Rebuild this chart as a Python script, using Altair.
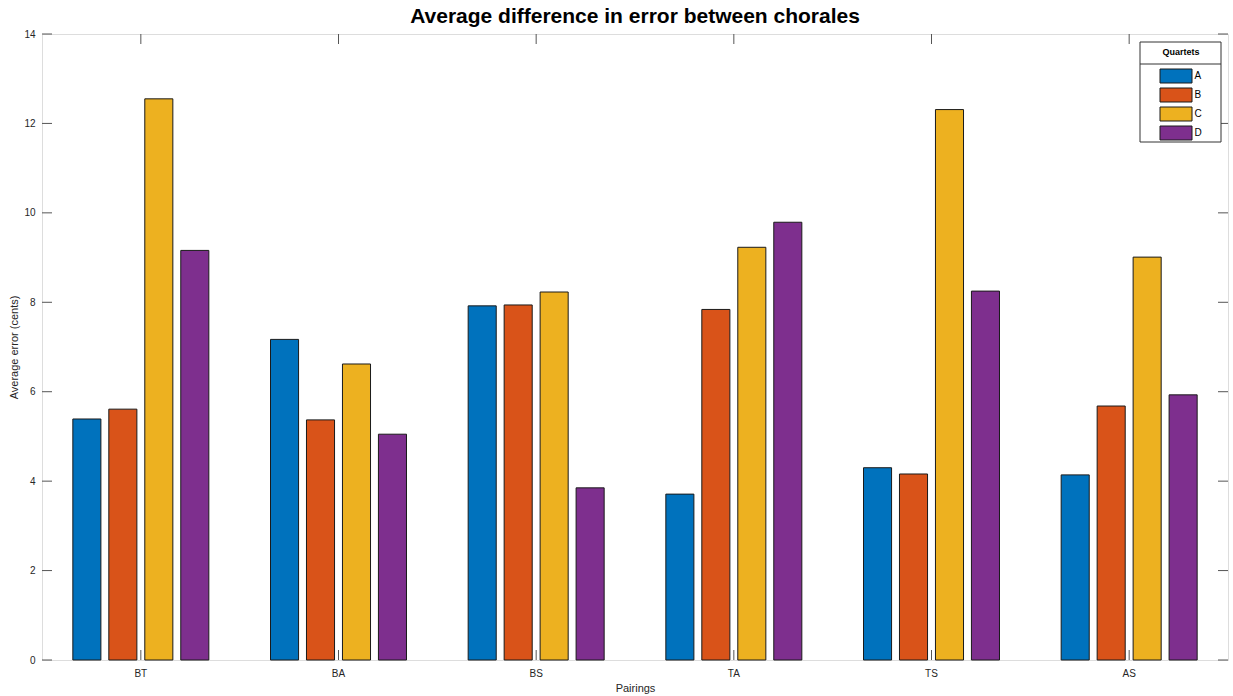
import altair as alt
import pandas as pd

pairings = ["BT", "BA", "BS", "TA", "TS", "AS"]
quartets = ["A", "B", "C", "D"]
values_A = [5.39, 7.17, 7.92, 3.71, 4.30, 4.14]
values_B = [5.61, 5.37, 7.94, 7.84, 4.16, 5.68]
values_C = [12.55, 6.62, 8.23, 9.23, 12.31, 9.01]
values_D = [9.16, 5.05, 3.85, 9.79, 8.25, 5.93]
colors = ["#0072BD", "#D95319", "#EDB120", "#7E2F8E"]
y_ticks = [0, 2, 4, 6, 8, 10, 12, 14]

rows = []
for q, vals in zip(quartets, [values_A, values_B, values_C, values_D]):
    for p, v in zip(pairings, vals):
        rows.append({"Pairing": p, "Quartet": q, "Value": v})
df = pd.DataFrame(rows)
ticks_df = pd.DataFrame({"v": y_ticks})
cats_df = pd.DataFrame({"Pairing": pairings})

W, H = 1186, 626
FONT = "Liberation Sans"
AXC = "#555555"
YT = "Average error (cents)"

xscale = alt.Scale(domain=pairings, paddingInner=0.312, paddingOuter=0.156)
yscale = alt.Scale(domain=[0, 14], nice=False)

x_enc = alt.X("Pairing:N", sort=pairings, scale=xscale, title="Pairings",
              axis=alt.Axis(labelAngle=0, ticks=False, domain=False, labelPadding=13,
                            bandPosition=0.5, labelAlign="center",
                            labelFontSize=10, titleFontSize=11, titlePadding=4,
                            titleFontWeight="normal", labelColor="#262626",
                            titleColor="#262626", labelFont=FONT, titleFont=FONT))

bars = alt.Chart(df).mark_bar(stroke="#1a1a1a", strokeWidth=1).encode(
    x=x_enc,
    xOffset=alt.XOffset("Quartet:N", sort=quartets,
                        scale=alt.Scale(paddingInner=0.22, paddingOuter=0)),
    y=alt.Y("Value:Q", scale=yscale, title=YT,
            axis=alt.Axis(values=y_ticks, ticks=False, domain=False, grid=False,
                          labelPadding=7, labelFontSize=10, titleFontSize=11,
                          titlePadding=4, titleFontWeight="normal",
                          labelColor="#262626", titleColor="#262626",
                          labelFont=FONT, titleFont=FONT)),
    color=alt.Color("Quartet:N", sort=quartets,
                    scale=alt.Scale(domain=quartets, range=colors),
                    legend=alt.Legend(
                        orient="none", legendX=1118, legendY=14,
                        title="Quartets", titleFontSize=9, titleFontWeight="bold",
                        titleFont=FONT, titleAnchor="middle", titleColor="#000000",
                        titlePadding=11.5, padding=0, rowPadding=0,
                        symbolType="M-2.2857,-1L2.2857,-1L2.2857,1L-2.2857,1Z",
                        symbolSize=196, symbolStrokeColor="#1a1a1a",
                        symbolStrokeWidth=1, symbolOffset=8.5, labelOffset=11,
                        labelFontSize=10, labelFont=FONT, labelColor="#000000")),
)

left_ticks = alt.Chart(ticks_df).mark_rule(color=AXC, strokeWidth=1).encode(
    y=alt.Y("v:Q", scale=yscale, title=YT), x=alt.value(0), x2=alt.value(10))
right_ticks = alt.Chart(ticks_df).mark_rule(color=AXC, strokeWidth=1).encode(
    y=alt.Y("v:Q", scale=yscale, title=YT), x=alt.value(W - 10), x2=alt.value(W))
bottom_ticks = alt.Chart(cats_df).mark_rule(color=AXC, strokeWidth=1).encode(
    x=alt.X("Pairing:N", sort=pairings, scale=xscale, title="Pairings"),
    y=alt.value(H - 10), y2=alt.value(H))
top_ticks = alt.Chart(cats_df).mark_rule(color=AXC, strokeWidth=1).encode(
    x=alt.X("Pairing:N", sort=pairings, scale=xscale, title="Pairings"),
    y=alt.value(0), y2=alt.value(10))

legend_box = alt.Chart(alt.Data(values=[{"k": 1}])).mark_rect(
    fill="white", stroke="#333333", strokeWidth=1).encode(
    x=alt.value(1098), x2=alt.value(1179), y=alt.value(8), y2=alt.value(108))
legend_sep = alt.Chart(alt.Data(values=[{"k": 1}])).mark_rule(
    color="#333333", strokeWidth=1).encode(
    x=alt.value(1098), x2=alt.value(1179), y=alt.value(30))

chart = alt.layer(left_ticks, right_ticks, bottom_ticks, top_ticks, bars,
                  legend_box, legend_sep).properties(
    width=W, height=H,
    autosize=alt.AutoSizeParams(type="none"),
    padding={"left": 42, "top": 34, "right": 5, "bottom": 36},
    title=alt.TitleParams("Average difference in error between chorales",
                          fontSize=21, fontWeight="bold", font=FONT,
                          color="#000000", anchor="middle", frame="group",
                          offset=2),
).configure_view(stroke=AXC, strokeWidth=1).configure(background="white")

chart.save("out.html", embed_options={"renderer": "svg", "actions": False})
